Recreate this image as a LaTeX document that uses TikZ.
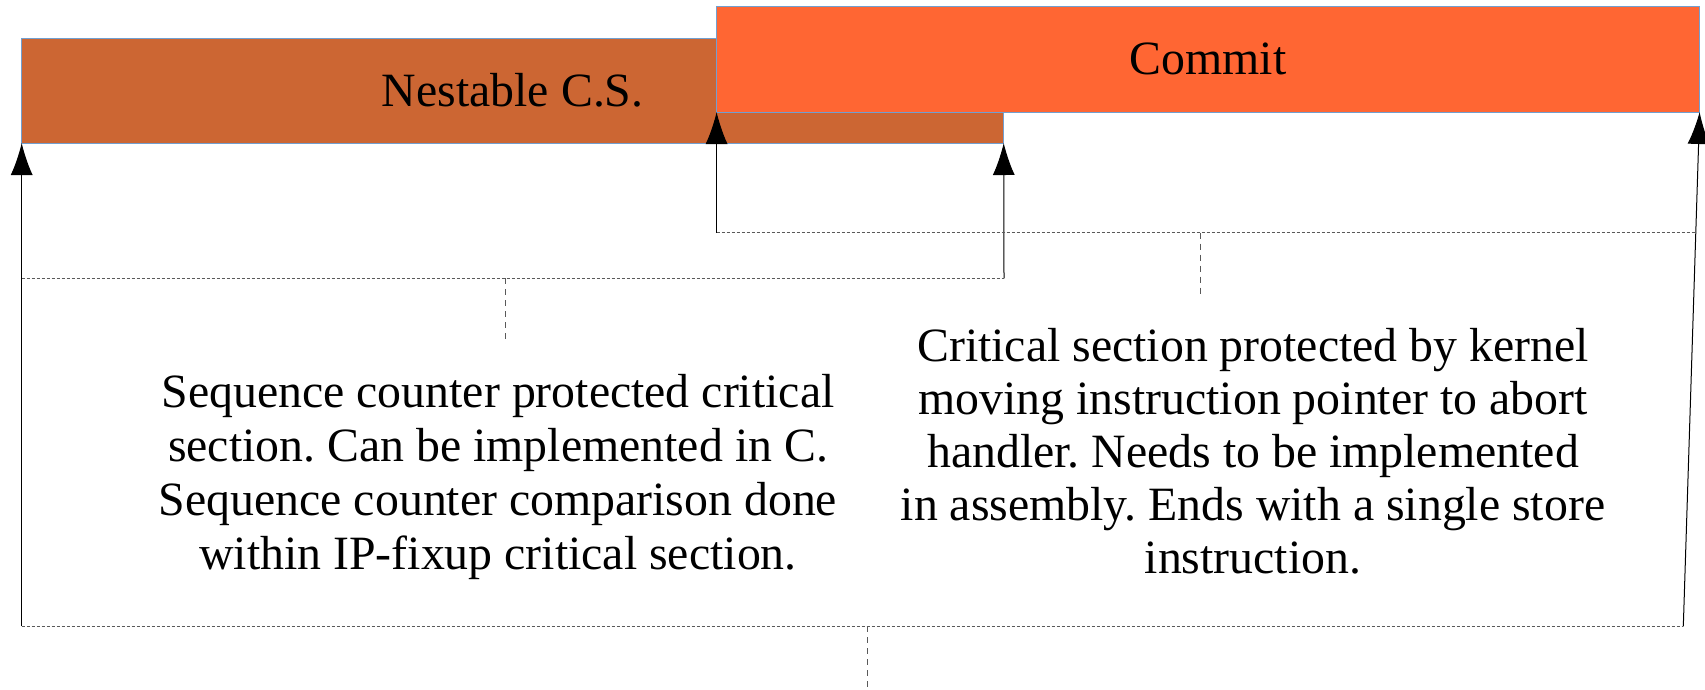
\documentclass[tikz,border=0pt]{standalone}
\usepackage{fontspec}
\setmainfont{Liberation Serif}
\usetikzlibrary{arrows.meta}
\frenchspacing

\definecolor{nestfill}{HTML}{CC6633}
\definecolor{commitfill}{HTML}{FF6633}
\definecolor{boxline}{HTML}{729FCF}

\tikzset{
  csbox/.style={draw=boxline, line width=1pt, inner sep=0pt, outer sep=0pt,
    anchor=north west, font=\fontsize{47.8}{53}\selectfont},
  note/.style={align=center, inner sep=0pt, font=\fontsize{47.8}{53}\selectfont},
  rise/.style={-{Latex[length=32pt,width=22pt]}, line width=1pt},
  span/.style={gray!70!black, line width=1pt, dash pattern=on 3pt off 2pt},
  mid/.style={gray!70!black, line width=1pt, dash pattern=on 6pt off 5pt}
}

\begin{document}
\begin{tikzpicture}[x=1pt,y=-1pt]

\useasboundingbox (0,0) rectangle (1705,689);

% the two sections
\node[csbox, fill=nestfill, minimum width=982pt, minimum height=105pt]
  (nestable) at (21.7,38) {Nestable C.S.};
\node[csbox, fill=commitfill, minimum width=983pt, minimum height=105.5pt]
  (commit) at (716.6,6.5) {Commit};

% bracket ends
\coordinate (seqL) at (21.7,626.3);
\coordinate (seqR) at (1683.3,626.3);
\coordinate (seqM) at (867.7,626.3);
\coordinate (seqD) at (867.7,689);
\coordinate (nestL) at (21.7,278.4);
\coordinate (nestR) at (1004,278.4);
\coordinate (nestM) at (505.6,278.4);
\coordinate (nestD) at (505.6,339.3);
\coordinate (ipL) at (716.6,232.7);
\coordinate (ipR) at (1696,232.7);
\coordinate (ipM) at (1200.5,232.7);
\coordinate (ipD) at (1200.5,293.6);

% arrows up to the section edges
\draw[rise] (seqL) -- (nestable.south west);
\draw[rise] (seqR) -- (commit.south east);
\draw[rise] (nestR) -- (nestable.south east);
\draw[rise] (ipL) -- (commit.south west);

% dotted spans
\draw[span] (nestL) -- (nestR);
\draw[span] (ipL) -- (ipR);
\draw[span] (seqL) -- (seqR);
\draw[mid] (nestM) -- (nestD);
\draw[mid] (ipM) -- (ipD);
\draw[mid] (seqM) -- (seqD);

% notes
\node[note, font=\fontsize{47.8}{54}\selectfont] (seqnote) at (498,477)
  {Sequence counter protected critical\\
  section. Can be implemented in C.\\
  Sequence counter comparison done\\
  within IP-fixup critical section.};
\node[note] (ipnote) at (1253,451) {Critical section protected by kernel\\
  moving instruction pointer to abort\\
  handler. Needs to be implemented\\
  in assembly. Ends with a single store\\
  instruction.};

\end{tikzpicture}
\end{document}
